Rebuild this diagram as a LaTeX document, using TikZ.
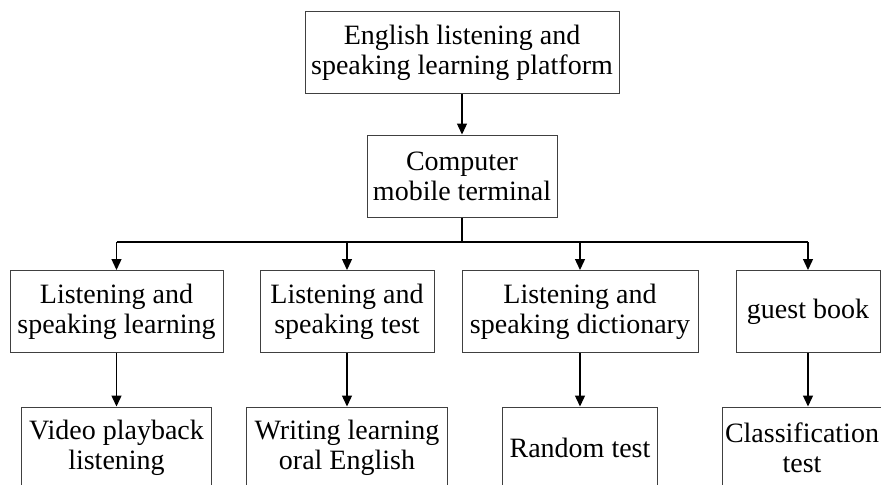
\documentclass[tikz,border=0pt]{standalone}
\usepackage{fontspec}
\setmainfont{Liberation Serif}
\usetikzlibrary{arrows.meta}

\begin{document}
\begin{tikzpicture}[x=0.5pt, y=-0.5pt,
		every node/.style={draw=black!75, line width=0.5pt, fill=white, align=center, inner sep=0pt, minimum height=41pt, font=\fontsize{14}{15}\selectfont},
		>={Triangle[length=5.5pt, width=5pt]}]
			\clip (0,0) rectangle (881,484);
			% Nodes
			\node[minimum width=157pt] (top) at (462,52.5) {English listening and\\speaking learning platform};
			\node[minimum width=95pt] (comp) at (462,176) {Computer\\mobile terminal};
			\node[minimum width=106.5pt] (l1) at (116.5,311.5) {Listening and\\speaking learning};
			\node[minimum width=87pt] (l2) at (347,311.5) {Listening and\\speaking test};
			\node[minimum width=118pt] (l3) at (580,311.5) {Listening and\\speaking dictionary};
			\node[minimum width=72pt] (l4) at (808,311.5) {guest book};
			\node[minimum width=95pt] (va) at (116.5,448) {Video playback\\listening};
			\node[minimum width=100.5pt] (vb) at (347,448) {Writing learning\\oral English};
			\node[minimum width=77.5pt] (vc) at (580,448) {Random test};
			\node[minimum width=80pt] (vd) at (802,448) {Classification\\test};
			\coordinate (bus) at (462,242);
			% Edges
			\begin{scope}[line width=0.65pt]
			\draw[->] (top) -- (comp);
			\draw (comp) -- (bus);
			\draw (l1 |- bus) -- (l4 |- bus);
			\foreach \n in {l1,l2,l3,l4}
				\draw[->] (\n |- bus) -- (\n);
			\foreach \a/\b in {l1/va,l2/vb,l3/vc,l4/vd}
				\draw[->] (\a) -- (\a |- \b.north);
			\end{scope}
		\end{tikzpicture}
\end{document}
